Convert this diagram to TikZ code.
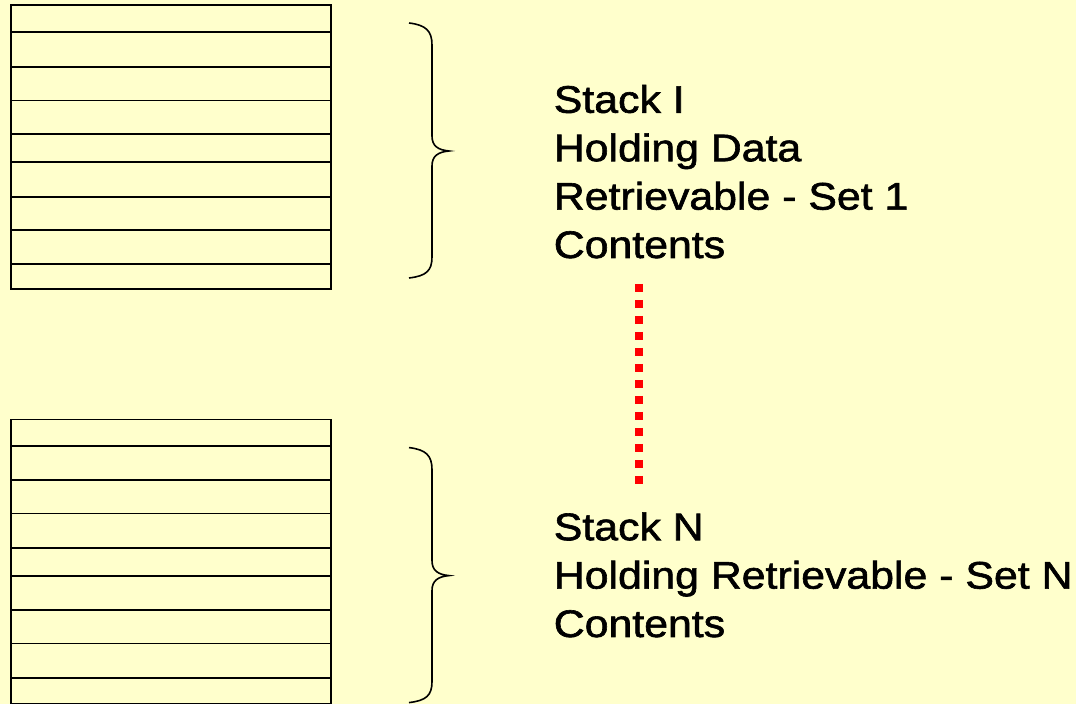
\documentclass[tikz,border=0pt]{standalone}
\usepackage{fontspec}
\newfontfamily\stackfont[FakeStretch=1.115,FakeBold=1.6]{Liberation Sans}
\definecolor{paper}{HTML}{FFFFCC}

\begin{document}
\begin{tikzpicture}[x=0.5pt,y=-0.5pt,line width=0.8pt,
    stacktext/.style={anchor=base west,align=left,inner sep=0pt,
      font=\stackfont\fontsize{19.2}{24.2}\selectfont}]
   \fill[color=paper] (0,0) rectangle (1076,704);
   \useasboundingbox (0,0) rectangle (1076,704);

   % first stack of records
   \draw (11,5.3) rectangle (331,289.3);
   \draw (11,32.3) -- (331,32.3) (11,67) -- (331,67)
   (11,100.7) -- (331,100.7) (11,134.3) -- (331,134.3)
   (11,162.3) -- (331,162.3) (11,197.3) -- (331,197.3)
   (11,230.3) -- (331,230.3) (11,264.3) -- (331,264.3);

   % last stack, runs off the bottom edge
   \draw (11,419.7) rectangle (331,703.8);
   \draw (11,446.3) -- (331,446.3) (11,480.3) -- (331,480.3)
   (11,513.7) -- (331,513.7) (11,548) -- (331,548)
   (11,576.3) -- (331,576.3) (11,610.3) -- (331,610.3)
   (11,643.7) -- (331,643.7) (11,678) -- (331,678);

   % braces
   \draw (409,23) .. controls (426,25) and (432,31) .. (432,45) -- (432,136)
   .. controls (432,146) and (438,150) .. (449,151)
   .. controls (438,152) and (432,156) .. (432,166) -- (432,257)
   .. controls (432,271) and (426,276) .. (409,278);
   \draw[shift={(0,424.6)}] (409,23) .. controls (426,25) and (432,31) .. (432,45) -- (432,136)
   .. controls (432,146) and (438,150) .. (449,151)
   .. controls (438,152) and (432,156) .. (432,166) -- (432,257)
   .. controls (432,271) and (426,276) .. (409,278);

   % base anchor sits on the last line
   \node[stacktext] (setone) at (553,258)
     {Stack I\\Holding Data\\Retrievable - Set 1\\Contents};
   \node[stacktext] (setn) at (553,637)
     {Stack N\\Holding Retrievable - Set N\\Contents};

   \coordinate (gaptop) at (639,284);
   \coordinate (gapbot) at (639,484);
   \draw[color=red,line width=4pt,dash pattern=on 4pt off 4pt] (gaptop) -- (gapbot);

\end{tikzpicture}
\end{document}
